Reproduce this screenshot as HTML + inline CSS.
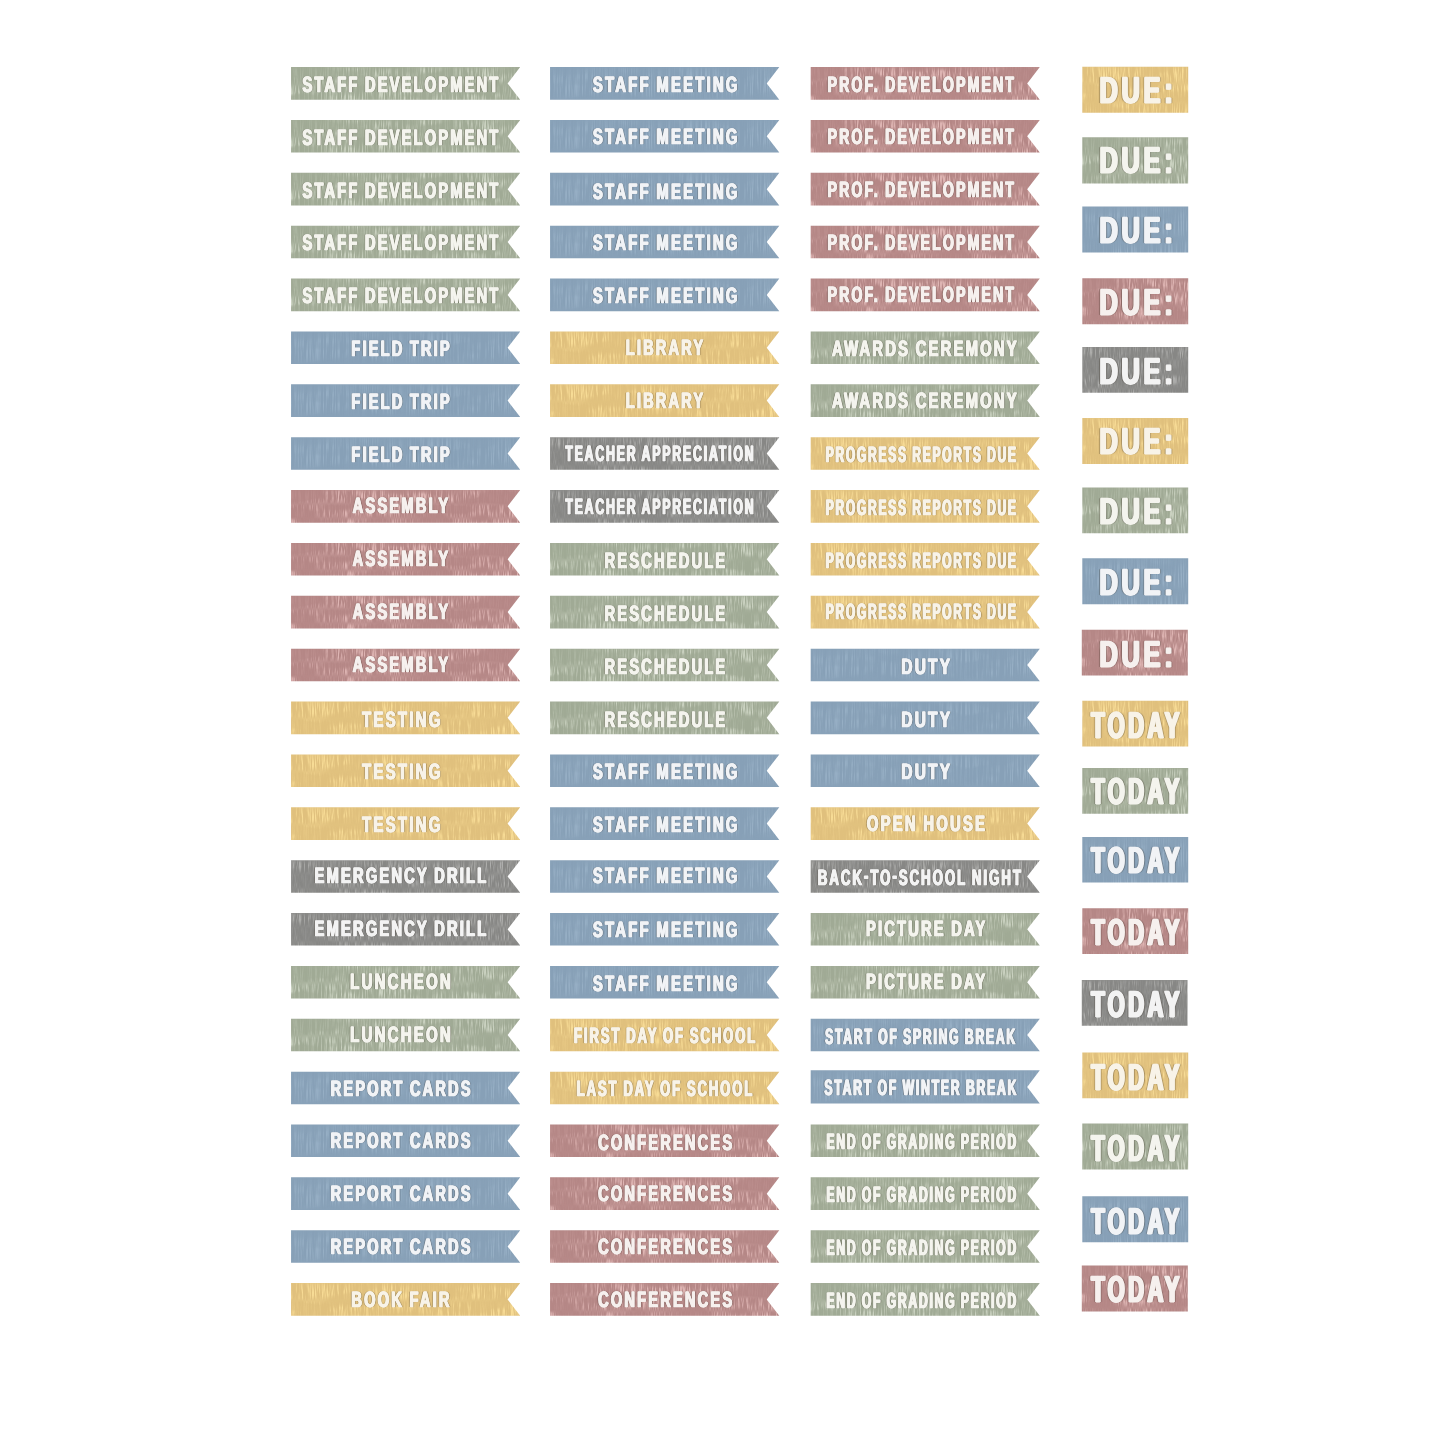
<!DOCTYPE html>
<html lang="en"><head><meta charset="utf-8"><title>Teacher planner stickers</title>
<style>
html,body{margin:0;padding:0;background:#fff}
body{position:relative;width:1445px;height:1445px;overflow:hidden;font-family:"Liberation Sans",sans-serif}
.flag,.tag{position:absolute}
.flag i,.tag i{position:absolute;left:0;top:0;width:100%;height:100%;display:block}
.t{position:absolute;left:0;top:0;font:700 100px/100px "Liberation Sans",sans-serif;white-space:pre;letter-spacing:15.4px;word-spacing:-5.5px;transform-origin:0 0;text-rendering:geometricPrecision}
.flag .t{-webkit-text-stroke:3.2px}
.tag .t{-webkit-text-stroke:3.2px}
.t b{font-weight:inherit;position:relative;top:-9px}
.sage i{background:#a0aa95;filter:url(#tx-sage)}.sage .t{color:#f4f4ee}
.blue i{background:#87a0b7;filter:url(#tx-blue)}.blue .t{color:#f1f3f6}
.rose i{background:#b58786;filter:url(#tx-rose)}.rose .t{color:#f6f0ee}
.gold i{background:#e0c07d;filter:url(#tx-gold)}.gold .t{color:#f8f3e8}
.gray i{background:#878785;filter:url(#tx-gray)}.gray .t{color:#f3f3f3}
</style></head><body>
<svg width="0" height="0" style="position:absolute" aria-hidden="true" focusable="false"><defs>
<filter id="tx-sage" x="0" y="0" width="1" height="1" color-interpolation-filters="sRGB"><feTurbulence type="fractalNoise" baseFrequency="1.0 0.055" numOctaves="2" seed="11"/><feColorMatrix type="matrix" values="0 0 0 0 0.831  0 0 0 0 0.859  0 0 0 0 0.796  1 0 0 0 0"/><feComponentTransfer result="s"><feFuncA type="table" tableValues="0 0 0 0 0 .25 .65 1 1 1 1"/></feComponentTransfer><feTurbulence type="fractalNoise" baseFrequency="0.025 0.07" numOctaves="2" seed="51"/><feColorMatrix type="matrix" values="0 0 0 0 1  0 0 0 0 1  0 0 0 0 1  5 0 0 0 -2" result="m"/><feComposite in="s" in2="m" operator="arithmetic" k1="0.600" k2="0.200" k3="0" k4="0"/><feComposite in2="SourceAlpha" operator="in" result="t"/><feMerge><feMergeNode in="SourceGraphic"/><feMergeNode in="t"/></feMerge></filter>
<filter id="tx-blue" x="0" y="0" width="1" height="1" color-interpolation-filters="sRGB"><feTurbulence type="fractalNoise" baseFrequency="1.0 0.03" numOctaves="2" seed="23"/><feColorMatrix type="matrix" values="0 0 0 0 0.627  0 0 0 0 0.722  0 0 0 0 0.804  1 0 0 0 0"/><feComponentTransfer result="s"><feFuncA type="table" tableValues="0 0 0 0 0 .25 .65 1 1 1 1"/></feComponentTransfer><feTurbulence type="fractalNoise" baseFrequency="0.025 0.07" numOctaves="2" seed="63"/><feColorMatrix type="matrix" values="0 0 0 0 1  0 0 0 0 1  0 0 0 0 1  5 0 0 0 -2" result="m"/><feComposite in="s" in2="m" operator="arithmetic" k1="0.360" k2="0.240" k3="0" k4="0"/><feComposite in2="SourceAlpha" operator="in" result="t"/><feMerge><feMergeNode in="SourceGraphic"/><feMergeNode in="t"/></feMerge></filter>
<filter id="tx-rose" x="0" y="0" width="1" height="1" color-interpolation-filters="sRGB"><feTurbulence type="fractalNoise" baseFrequency="1.0 0.07" numOctaves="2" seed="5"/><feColorMatrix type="matrix" values="0 0 0 0 0.910  0 0 0 0 0.753  0 0 0 0 0.745  1 0 0 0 0"/><feComponentTransfer result="s"><feFuncA type="table" tableValues="0 0 0 0 0 .25 .65 1 1 1 1"/></feComponentTransfer><feTurbulence type="fractalNoise" baseFrequency="0.025 0.07" numOctaves="2" seed="45"/><feColorMatrix type="matrix" values="0 0 0 0 1  0 0 0 0 1  0 0 0 0 1  5 0 0 0 -2" result="m"/><feComposite in="s" in2="m" operator="arithmetic" k1="0.680" k2="0.120" k3="0" k4="0"/><feComposite in2="SourceAlpha" operator="in" result="t"/><feMerge><feMergeNode in="SourceGraphic"/><feMergeNode in="t"/></feMerge></filter>
<filter id="tx-gold" x="0" y="0" width="1" height="1" color-interpolation-filters="sRGB"><feTurbulence type="fractalNoise" baseFrequency="1.0 0.055" numOctaves="2" seed="37"/><feColorMatrix type="matrix" values="0 0 0 0 0.992  0 0 0 0 0.886  0 0 0 0 0.612  1 0 0 0 0"/><feComponentTransfer result="s"><feFuncA type="table" tableValues="0 0 0 0 0 .25 .65 1 1 1 1"/></feComponentTransfer><feTurbulence type="fractalNoise" baseFrequency="0.025 0.07" numOctaves="2" seed="77"/><feColorMatrix type="matrix" values="0 0 0 0 1  0 0 0 0 1  0 0 0 0 1  5 0 0 0 -2" result="m"/><feComposite in="s" in2="m" operator="arithmetic" k1="0.600" k2="0.200" k3="0" k4="0"/><feComposite in2="SourceAlpha" operator="in" result="t"/><feMerge><feMergeNode in="SourceGraphic"/><feMergeNode in="t"/></feMerge></filter>
<filter id="tx-gray" x="0" y="0" width="1" height="1" color-interpolation-filters="sRGB"><feTurbulence type="fractalNoise" baseFrequency="1.0 0.07" numOctaves="2" seed="17"/><feColorMatrix type="matrix" values="0 0 0 0 0.722  0 0 0 0 0.722  0 0 0 0 0.714  1 0 0 0 0"/><feComponentTransfer result="s"><feFuncA type="table" tableValues="0 0 0 0 0 .25 .65 1 1 1 1"/></feComponentTransfer><feTurbulence type="fractalNoise" baseFrequency="0.025 0.07" numOctaves="2" seed="57"/><feColorMatrix type="matrix" values="0 0 0 0 1  0 0 0 0 1  0 0 0 0 1  5 0 0 0 -2" result="m"/><feComposite in="s" in2="m" operator="arithmetic" k1="0.560" k2="0.240" k3="0" k4="0"/><feComposite in2="SourceAlpha" operator="in" result="t"/><feMerge><feMergeNode in="SourceGraphic"/><feMergeNode in="t"/></feMerge></filter>
</defs></svg>
<section class="col" aria-label="column 1">
<div class="flag sage" style="left:291px;top:67px;width:230px;height:33px"><i style="clip-path:polygon(0.05px 0.1px,229.2px 0.1px,216.6px 16.4px,229.2px 32.7px,0.05px 32.7px)"></i><span class="t" style="transform:matrix(0.14556,0,0,0.22083,11.51,6.10);text-shadow:4.42px 0 0,-4.42px 0 0,9.11px 0 4.12px rgba(40,30,20,0.3),-9.11px 0 4.12px rgba(40,30,20,0.3)">STAFF DEVELOPMENT</span></div>
<div class="flag sage" style="left:291px;top:119px;width:230px;height:34px"><i style="clip-path:polygon(0.05px 0.97px,229.2px 0.97px,216.6px 17.27px,229.2px 33.57px,0.05px 33.57px)"></i><span class="t" style="transform:matrix(0.14556,0,0,0.22083,11.51,7.10);text-shadow:4.42px 0 0,-4.42px 0 0,9.11px 0 4.12px rgba(40,30,20,0.3),-9.11px 0 4.12px rgba(40,30,20,0.3)">STAFF DEVELOPMENT</span></div>
<div class="flag sage" style="left:291px;top:172px;width:230px;height:34px"><i style="clip-path:polygon(0.05px 0.84px,229.2px 0.84px,216.6px 17.14px,229.2px 33.44px,0.05px 33.44px)"></i><span class="t" style="transform:matrix(0.14556,0,0,0.22083,11.51,7.00);text-shadow:4.42px 0 0,-4.42px 0 0,9.11px 0 4.12px rgba(40,30,20,0.3),-9.11px 0 4.12px rgba(40,30,20,0.3)">STAFF DEVELOPMENT</span></div>
<div class="flag sage" style="left:291px;top:225px;width:230px;height:34px"><i style="clip-path:polygon(0.05px 0.71px,229.2px 0.71px,216.6px 17.01px,229.2px 33.31px,0.05px 33.31px)"></i><span class="t" style="transform:matrix(0.14556,0,0,0.22083,11.51,6.80);text-shadow:4.42px 0 0,-4.42px 0 0,9.11px 0 4.12px rgba(40,30,20,0.3),-9.11px 0 4.12px rgba(40,30,20,0.3)">STAFF DEVELOPMENT</span></div>
<div class="flag sage" style="left:291px;top:278px;width:230px;height:34px"><i style="clip-path:polygon(0.05px 0.58px,229.2px 0.58px,216.6px 16.88px,229.2px 33.18px,0.05px 33.18px)"></i><span class="t" style="transform:matrix(0.14556,0,0,0.22083,11.51,6.80);text-shadow:4.42px 0 0,-4.42px 0 0,9.11px 0 4.12px rgba(40,30,20,0.3),-9.11px 0 4.12px rgba(40,30,20,0.3)">STAFF DEVELOPMENT</span></div>
<div class="flag blue" style="left:291px;top:331px;width:230px;height:34px"><i style="clip-path:polygon(0.05px 0.45px,229.2px 0.45px,216.6px 16.75px,229.2px 33.05px,0.05px 33.05px)"></i><span class="t" style="transform:matrix(0.14488,0,0,0.22083,60.46,6.40);text-shadow:4.45px 0 0,-4.45px 0 0,9.15px 0 4.14px rgba(40,30,20,0.3),-9.15px 0 4.14px rgba(40,30,20,0.3)">FIELD TRIP</span></div>
<div class="flag blue" style="left:291px;top:384px;width:230px;height:33px"><i style="clip-path:polygon(0.05px 0.32px,229.2px 0.32px,216.6px 16.62px,229.2px 32.92px,0.05px 32.92px)"></i><span class="t" style="transform:matrix(0.14488,0,0,0.22083,60.46,6.30);text-shadow:4.45px 0 0,-4.45px 0 0,9.15px 0 4.14px rgba(40,30,20,0.3),-9.15px 0 4.14px rgba(40,30,20,0.3)">FIELD TRIP</span></div>
<div class="flag blue" style="left:291px;top:437px;width:230px;height:33px"><i style="clip-path:polygon(0.05px 0.19px,229.2px 0.19px,216.6px 16.49px,229.2px 32.79px,0.05px 32.79px)"></i><span class="t" style="transform:matrix(0.14488,0,0,0.22083,60.46,6.30);text-shadow:4.45px 0 0,-4.45px 0 0,9.15px 0 4.14px rgba(40,30,20,0.3),-9.15px 0 4.14px rgba(40,30,20,0.3)">FIELD TRIP</span></div>
<div class="flag rose" style="left:291px;top:490px;width:230px;height:33px"><i style="clip-path:polygon(0.05px 0.06px,229.2px 0.06px,216.6px 16.36px,229.2px 32.66px,0.05px 32.66px)"></i><span class="t" style="transform:matrix(0.14597,0,0,0.22083,61.71,4.30);text-shadow:4.4px 0 0,-4.4px 0 0,9.08px 0 4.11px rgba(40,30,20,0.3),-9.08px 0 4.11px rgba(40,30,20,0.3)">ASSEMBLY</span></div>
<div class="flag rose" style="left:291px;top:542px;width:230px;height:34px"><i style="clip-path:polygon(0.05px 0.93px,229.2px 0.93px,216.6px 17.23px,229.2px 33.53px,0.05px 33.53px)"></i><span class="t" style="transform:matrix(0.14597,0,0,0.22083,61.71,5.40);text-shadow:4.4px 0 0,-4.4px 0 0,9.08px 0 4.11px rgba(40,30,20,0.3),-9.08px 0 4.11px rgba(40,30,20,0.3)">ASSEMBLY</span></div>
<div class="flag rose" style="left:291px;top:595px;width:230px;height:34px"><i style="clip-path:polygon(0.05px 0.8px,229.2px 0.8px,216.6px 17.1px,229.2px 33.4px,0.05px 33.4px)"></i><span class="t" style="transform:matrix(0.14597,0,0,0.22083,61.71,5.15);text-shadow:4.4px 0 0,-4.4px 0 0,9.08px 0 4.11px rgba(40,30,20,0.3),-9.08px 0 4.11px rgba(40,30,20,0.3)">ASSEMBLY</span></div>
<div class="flag rose" style="left:291px;top:648px;width:230px;height:34px"><i style="clip-path:polygon(0.05px 0.67px,229.2px 0.67px,216.6px 16.97px,229.2px 33.27px,0.05px 33.27px)"></i><span class="t" style="transform:matrix(0.14597,0,0,0.22083,61.71,5.10);text-shadow:4.4px 0 0,-4.4px 0 0,9.08px 0 4.11px rgba(40,30,20,0.3),-9.08px 0 4.11px rgba(40,30,20,0.3)">ASSEMBLY</span></div>
<div class="flag gold" style="left:291px;top:701px;width:230px;height:34px"><i style="clip-path:polygon(0.05px 0.54px,229.2px 0.54px,216.6px 16.84px,229.2px 33.14px,0.05px 33.14px)"></i><span class="t" style="transform:matrix(0.14881,0,0,0.22083,71.11,7.10);text-shadow:4.29px 0 0,-4.29px 0 0,8.91px 0 4.03px rgba(40,30,20,0.3),-8.91px 0 4.03px rgba(40,30,20,0.3)">TESTING</span></div>
<div class="flag gold" style="left:291px;top:754px;width:230px;height:34px"><i style="clip-path:polygon(0.05px 0.41px,229.2px 0.41px,216.6px 16.71px,229.2px 33.01px,0.05px 33.01px)"></i><span class="t" style="transform:matrix(0.14881,0,0,0.22083,71.11,6.80);text-shadow:4.29px 0 0,-4.29px 0 0,8.91px 0 4.03px rgba(40,30,20,0.3),-8.91px 0 4.03px rgba(40,30,20,0.3)">TESTING</span></div>
<div class="flag gold" style="left:291px;top:807px;width:230px;height:33px"><i style="clip-path:polygon(0.05px 0.28px,229.2px 0.28px,216.6px 16.58px,229.2px 32.88px,0.05px 32.88px)"></i><span class="t" style="transform:matrix(0.14881,0,0,0.22083,71.11,6.40);text-shadow:4.29px 0 0,-4.29px 0 0,8.91px 0 4.03px rgba(40,30,20,0.3),-8.91px 0 4.03px rgba(40,30,20,0.3)">TESTING</span></div>
<div class="flag gray" style="left:291px;top:860px;width:230px;height:33px"><i style="clip-path:polygon(0.05px 0.15px,229.2px 0.15px,216.6px 16.45px,229.2px 32.75px,0.05px 32.75px)"></i><span class="t" style="transform:matrix(0.14602,0,0,0.22083,23.60,4.70);text-shadow:4.4px 0 0,-4.4px 0 0,9.08px 0 4.11px rgba(40,30,20,0.3),-9.08px 0 4.11px rgba(40,30,20,0.3)">EMERGENCY DRILL</span></div>
<div class="flag gray" style="left:291px;top:913px;width:230px;height:33px"><i style="clip-path:polygon(0.05px 0.02px,229.2px 0.02px,216.6px 16.32px,229.2px 32.62px,0.05px 32.62px)"></i><span class="t" style="transform:matrix(0.14602,0,0,0.22083,23.60,4.50);text-shadow:4.4px 0 0,-4.4px 0 0,9.08px 0 4.11px rgba(40,30,20,0.3),-9.08px 0 4.11px rgba(40,30,20,0.3)">EMERGENCY DRILL</span></div>
<div class="flag sage" style="left:291px;top:965px;width:230px;height:34px"><i style="clip-path:polygon(0.05px 0.89px,229.2px 0.89px,216.6px 17.19px,229.2px 33.49px,0.05px 33.49px)"></i><span class="t" style="transform:matrix(0.14908,0,0,0.22083,59.18,5.60);text-shadow:4.28px 0 0,-4.28px 0 0,8.89px 0 4.02px rgba(40,30,20,0.3),-8.89px 0 4.02px rgba(40,30,20,0.3)">LUNCHEON</span></div>
<div class="flag sage" style="left:291px;top:1018px;width:230px;height:34px"><i style="clip-path:polygon(0.05px 0.76px,229.2px 0.76px,216.6px 17.06px,229.2px 33.36px,0.05px 33.36px)"></i><span class="t" style="transform:matrix(0.14908,0,0,0.22083,59.18,5.50);text-shadow:4.28px 0 0,-4.28px 0 0,8.89px 0 4.02px rgba(40,30,20,0.3),-8.89px 0 4.02px rgba(40,30,20,0.3)">LUNCHEON</span></div>
<div class="flag blue" style="left:291px;top:1071px;width:230px;height:34px"><i style="clip-path:polygon(0.05px 0.63px,229.2px 0.63px,216.6px 16.93px,229.2px 33.23px,0.05px 33.23px)"></i><span class="t" style="transform:matrix(0.14491,0,0,0.22083,39.76,6.90);text-shadow:4.45px 0 0,-4.45px 0 0,9.15px 0 4.14px rgba(40,30,20,0.3),-9.15px 0 4.14px rgba(40,30,20,0.3)">REPORT CARDS</span></div>
<div class="flag blue" style="left:291px;top:1124px;width:230px;height:34px"><i style="clip-path:polygon(0.05px 0.5px,229.2px 0.5px,216.6px 16.8px,229.2px 33.1px,0.05px 33.1px)"></i><span class="t" style="transform:matrix(0.14491,0,0,0.22083,39.76,5.30);text-shadow:4.45px 0 0,-4.45px 0 0,9.15px 0 4.14px rgba(40,30,20,0.3),-9.15px 0 4.14px rgba(40,30,20,0.3)">REPORT CARDS</span></div>
<div class="flag blue" style="left:291px;top:1177px;width:230px;height:33px"><i style="clip-path:polygon(0.05px 0.37px,229.2px 0.37px,216.6px 16.67px,229.2px 32.97px,0.05px 32.97px)"></i><span class="t" style="transform:matrix(0.14491,0,0,0.22083,39.76,5.40);text-shadow:4.45px 0 0,-4.45px 0 0,9.15px 0 4.14px rgba(40,30,20,0.3),-9.15px 0 4.14px rgba(40,30,20,0.3)">REPORT CARDS</span></div>
<div class="flag blue" style="left:291px;top:1230px;width:230px;height:33px"><i style="clip-path:polygon(0.05px 0.24px,229.2px 0.24px,216.6px 16.54px,229.2px 32.84px,0.05px 32.84px)"></i><span class="t" style="transform:matrix(0.14491,0,0,0.22083,39.76,5.30);text-shadow:4.45px 0 0,-4.45px 0 0,9.15px 0 4.14px rgba(40,30,20,0.3),-9.15px 0 4.14px rgba(40,30,20,0.3)">REPORT CARDS</span></div>
<div class="flag gold" style="left:291px;top:1283px;width:230px;height:33px"><i style="clip-path:polygon(0.05px 0.11px,229.2px 0.11px,216.6px 16.41px,229.2px 32.71px,0.05px 32.71px)"></i><span class="t" style="transform:matrix(0.14551,0,0,0.22083,60.45,5.20);text-shadow:4.42px 0 0,-4.42px 0 0,9.11px 0 4.12px rgba(40,30,20,0.3),-9.11px 0 4.12px rgba(40,30,20,0.3)">BOOK FAIR</span></div>
</section>
<section class="col" aria-label="column 2">
<div class="flag blue" style="left:550px;top:67px;width:230px;height:33px"><i style="clip-path:polygon(0.05px 0.1px,229.3px 0.1px,216.7px 16.4px,229.3px 32.7px,0.05px 32.7px)"></i><span class="t" style="transform:matrix(0.14783,0,0,0.22083,42.95,6.00);text-shadow:4.33px 0 0,-4.33px 0 0,8.97px 0 4.06px rgba(40,30,20,0.3),-8.97px 0 4.06px rgba(40,30,20,0.3)">STAFF MEETING</span></div>
<div class="flag blue" style="left:550px;top:119px;width:230px;height:34px"><i style="clip-path:polygon(0.05px 0.97px,229.3px 0.97px,216.7px 17.27px,229.3px 33.57px,0.05px 33.57px)"></i><span class="t" style="transform:matrix(0.14783,0,0,0.22083,42.95,6.80);text-shadow:4.33px 0 0,-4.33px 0 0,8.97px 0 4.06px rgba(40,30,20,0.3),-8.97px 0 4.06px rgba(40,30,20,0.3)">STAFF MEETING</span></div>
<div class="flag blue" style="left:550px;top:172px;width:230px;height:34px"><i style="clip-path:polygon(0.05px 0.84px,229.3px 0.84px,216.7px 17.14px,229.3px 33.44px,0.05px 33.44px)"></i><span class="t" style="transform:matrix(0.14783,0,0,0.22083,42.95,8.30);text-shadow:4.33px 0 0,-4.33px 0 0,8.97px 0 4.06px rgba(40,30,20,0.3),-8.97px 0 4.06px rgba(40,30,20,0.3)">STAFF MEETING</span></div>
<div class="flag blue" style="left:550px;top:225px;width:230px;height:34px"><i style="clip-path:polygon(0.05px 0.71px,229.3px 0.71px,216.7px 17.01px,229.3px 33.31px,0.05px 33.31px)"></i><span class="t" style="transform:matrix(0.14783,0,0,0.22083,42.95,6.60);text-shadow:4.33px 0 0,-4.33px 0 0,8.97px 0 4.06px rgba(40,30,20,0.3),-8.97px 0 4.06px rgba(40,30,20,0.3)">STAFF MEETING</span></div>
<div class="flag blue" style="left:550px;top:278px;width:230px;height:34px"><i style="clip-path:polygon(0.05px 0.58px,229.3px 0.58px,216.7px 16.88px,229.3px 33.18px,0.05px 33.18px)"></i><span class="t" style="transform:matrix(0.14783,0,0,0.22083,42.95,6.30);text-shadow:4.33px 0 0,-4.33px 0 0,8.97px 0 4.06px rgba(40,30,20,0.3),-8.97px 0 4.06px rgba(40,30,20,0.3)">STAFF MEETING</span></div>
<div class="flag gold" style="left:550px;top:331px;width:230px;height:34px"><i style="clip-path:polygon(0.05px 0.45px,229.3px 0.45px,216.7px 16.75px,229.3px 33.05px,0.05px 33.05px)"></i><span class="t" style="transform:matrix(0.14490,0,0,0.22083,75.81,5.60);text-shadow:4.45px 0 0,-4.45px 0 0,9.15px 0 4.14px rgba(40,30,20,0.3),-9.15px 0 4.14px rgba(40,30,20,0.3)">LIBRARY</span></div>
<div class="flag gold" style="left:550px;top:384px;width:230px;height:33px"><i style="clip-path:polygon(0.05px 0.32px,229.3px 0.32px,216.7px 16.62px,229.3px 32.92px,0.05px 32.92px)"></i><span class="t" style="transform:matrix(0.14490,0,0,0.22083,75.81,5.10);text-shadow:4.45px 0 0,-4.45px 0 0,9.15px 0 4.14px rgba(40,30,20,0.3),-9.15px 0 4.14px rgba(40,30,20,0.3)">LIBRARY</span></div>
<div class="flag gray" style="left:550px;top:437px;width:230px;height:33px"><i style="clip-path:polygon(0.05px 0.19px,229.3px 0.19px,216.7px 16.49px,229.3px 32.79px,0.05px 32.79px)"></i><span class="t" style="transform:matrix(0.12203,0,0,0.22083,15.34,5.60);text-shadow:5.58px 0 0,-5.58px 0 0,10.87px 0 4.92px rgba(40,30,20,0.3),-10.87px 0 4.92px rgba(40,30,20,0.3)">TEACHER APPRECIATION</span></div>
<div class="flag gray" style="left:550px;top:490px;width:230px;height:33px"><i style="clip-path:polygon(0.05px 0.06px,229.3px 0.06px,216.7px 16.36px,229.3px 32.66px,0.05px 32.66px)"></i><span class="t" style="transform:matrix(0.12203,0,0,0.22083,15.34,5.10);text-shadow:5.58px 0 0,-5.58px 0 0,10.87px 0 4.92px rgba(40,30,20,0.3),-10.87px 0 4.92px rgba(40,30,20,0.3)">TEACHER APPRECIATION</span></div>
<div class="flag sage" style="left:550px;top:542px;width:230px;height:34px"><i style="clip-path:polygon(0.05px 0.93px,229.3px 0.93px,216.7px 17.23px,229.3px 33.53px,0.05px 33.53px)"></i><span class="t" style="transform:matrix(0.14578,0,0,0.22083,54.55,7.00);text-shadow:4.41px 0 0,-4.41px 0 0,9.1px 0 4.12px rgba(40,30,20,0.3),-9.1px 0 4.12px rgba(40,30,20,0.3)">RESCHEDULE</span></div>
<div class="flag sage" style="left:550px;top:595px;width:230px;height:34px"><i style="clip-path:polygon(0.05px 0.8px,229.3px 0.8px,216.7px 17.1px,229.3px 33.4px,0.05px 33.4px)"></i><span class="t" style="transform:matrix(0.14578,0,0,0.22083,54.55,7.00);text-shadow:4.41px 0 0,-4.41px 0 0,9.1px 0 4.12px rgba(40,30,20,0.3),-9.1px 0 4.12px rgba(40,30,20,0.3)">RESCHEDULE</span></div>
<div class="flag sage" style="left:550px;top:648px;width:230px;height:34px"><i style="clip-path:polygon(0.05px 0.67px,229.3px 0.67px,216.7px 16.97px,229.3px 33.27px,0.05px 33.27px)"></i><span class="t" style="transform:matrix(0.14578,0,0,0.22083,54.55,7.00);text-shadow:4.41px 0 0,-4.41px 0 0,9.1px 0 4.12px rgba(40,30,20,0.3),-9.1px 0 4.12px rgba(40,30,20,0.3)">RESCHEDULE</span></div>
<div class="flag sage" style="left:550px;top:701px;width:230px;height:34px"><i style="clip-path:polygon(0.05px 0.54px,229.3px 0.54px,216.7px 16.84px,229.3px 33.14px,0.05px 33.14px)"></i><span class="t" style="transform:matrix(0.14578,0,0,0.22083,54.55,7.00);text-shadow:4.41px 0 0,-4.41px 0 0,9.1px 0 4.12px rgba(40,30,20,0.3),-9.1px 0 4.12px rgba(40,30,20,0.3)">RESCHEDULE</span></div>
<div class="flag blue" style="left:550px;top:754px;width:230px;height:34px"><i style="clip-path:polygon(0.05px 0.41px,229.3px 0.41px,216.7px 16.71px,229.3px 33.01px,0.05px 33.01px)"></i><span class="t" style="transform:matrix(0.14783,0,0,0.22083,42.95,6.70);text-shadow:4.33px 0 0,-4.33px 0 0,8.97px 0 4.06px rgba(40,30,20,0.3),-8.97px 0 4.06px rgba(40,30,20,0.3)">STAFF MEETING</span></div>
<div class="flag blue" style="left:550px;top:807px;width:230px;height:33px"><i style="clip-path:polygon(0.05px 0.28px,229.3px 0.28px,216.7px 16.58px,229.3px 32.88px,0.05px 32.88px)"></i><span class="t" style="transform:matrix(0.14783,0,0,0.22083,42.95,6.30);text-shadow:4.33px 0 0,-4.33px 0 0,8.97px 0 4.06px rgba(40,30,20,0.3),-8.97px 0 4.06px rgba(40,30,20,0.3)">STAFF MEETING</span></div>
<div class="flag blue" style="left:550px;top:860px;width:230px;height:33px"><i style="clip-path:polygon(0.05px 0.15px,229.3px 0.15px,216.7px 16.45px,229.3px 32.75px,0.05px 32.75px)"></i><span class="t" style="transform:matrix(0.14783,0,0,0.22083,42.95,4.80);text-shadow:4.33px 0 0,-4.33px 0 0,8.97px 0 4.06px rgba(40,30,20,0.3),-8.97px 0 4.06px rgba(40,30,20,0.3)">STAFF MEETING</span></div>
<div class="flag blue" style="left:550px;top:913px;width:230px;height:33px"><i style="clip-path:polygon(0.05px 0.02px,229.3px 0.02px,216.7px 16.32px,229.3px 32.62px,0.05px 32.62px)"></i><span class="t" style="transform:matrix(0.14783,0,0,0.22083,42.95,5.00);text-shadow:4.33px 0 0,-4.33px 0 0,8.97px 0 4.06px rgba(40,30,20,0.3),-8.97px 0 4.06px rgba(40,30,20,0.3)">STAFF MEETING</span></div>
<div class="flag blue" style="left:550px;top:965px;width:230px;height:34px"><i style="clip-path:polygon(0.05px 0.89px,229.3px 0.89px,216.7px 17.19px,229.3px 33.49px,0.05px 33.49px)"></i><span class="t" style="transform:matrix(0.14783,0,0,0.22083,42.95,7.30);text-shadow:4.33px 0 0,-4.33px 0 0,8.97px 0 4.06px rgba(40,30,20,0.3),-8.97px 0 4.06px rgba(40,30,20,0.3)">STAFF MEETING</span></div>
<div class="flag gold" style="left:550px;top:1018px;width:230px;height:34px"><i style="clip-path:polygon(0.05px 0.76px,229.3px 0.76px,216.7px 17.06px,229.3px 33.36px,0.05px 33.36px)"></i><span class="t" style="transform:matrix(0.12943,0,0,0.22083,24.01,6.70);text-shadow:5.17px 0 0,-5.17px 0 0,10.25px 0 4.64px rgba(40,30,20,0.3),-10.25px 0 4.64px rgba(40,30,20,0.3)">FIRST DAY OF SCHOOL</span></div>
<div class="flag gold" style="left:550px;top:1071px;width:230px;height:34px"><i style="clip-path:polygon(0.05px 0.63px,229.3px 0.63px,216.7px 16.93px,229.3px 33.23px,0.05px 33.23px)"></i><span class="t" style="transform:matrix(0.12938,0,0,0.22083,26.76,6.30);text-shadow:5.17px 0 0,-5.17px 0 0,10.25px 0 4.64px rgba(40,30,20,0.3),-10.25px 0 4.64px rgba(40,30,20,0.3)">LAST DAY OF SCHOOL</span></div>
<div class="flag rose" style="left:550px;top:1124px;width:230px;height:34px"><i style="clip-path:polygon(0.05px 0.5px,229.3px 0.5px,216.7px 16.8px,229.3px 33.1px,0.05px 33.1px)"></i><span class="t" style="transform:matrix(0.14544,0,0,0.22083,48.18,7.30);text-shadow:4.42px 0 0,-4.42px 0 0,9.12px 0 4.13px rgba(40,30,20,0.3),-9.12px 0 4.13px rgba(40,30,20,0.3)">CONFERENCES</span></div>
<div class="flag rose" style="left:550px;top:1177px;width:230px;height:33px"><i style="clip-path:polygon(0.05px 0.37px,229.3px 0.37px,216.7px 16.67px,229.3px 32.97px,0.05px 32.97px)"></i><span class="t" style="transform:matrix(0.14544,0,0,0.22083,48.18,5.40);text-shadow:4.42px 0 0,-4.42px 0 0,9.12px 0 4.13px rgba(40,30,20,0.3),-9.12px 0 4.13px rgba(40,30,20,0.3)">CONFERENCES</span></div>
<div class="flag rose" style="left:550px;top:1230px;width:230px;height:33px"><i style="clip-path:polygon(0.05px 0.24px,229.3px 0.24px,216.7px 16.54px,229.3px 32.84px,0.05px 32.84px)"></i><span class="t" style="transform:matrix(0.14544,0,0,0.22083,48.18,5.30);text-shadow:4.42px 0 0,-4.42px 0 0,9.12px 0 4.13px rgba(40,30,20,0.3),-9.12px 0 4.13px rgba(40,30,20,0.3)">CONFERENCES</span></div>
<div class="flag rose" style="left:550px;top:1283px;width:230px;height:33px"><i style="clip-path:polygon(0.05px 0.11px,229.3px 0.11px,216.7px 16.41px,229.3px 32.71px,0.05px 32.71px)"></i><span class="t" style="transform:matrix(0.14544,0,0,0.22083,48.18,5.20);text-shadow:4.42px 0 0,-4.42px 0 0,9.12px 0 4.13px rgba(40,30,20,0.3),-9.12px 0 4.13px rgba(40,30,20,0.3)">CONFERENCES</span></div>
</section>
<section class="col" aria-label="column 3">
<div class="flag rose" style="left:810px;top:67px;width:230px;height:33px"><i style="clip-path:polygon(0.7px 0.1px,229.8px 0.1px,217.2px 16.4px,229.8px 32.7px,0.7px 32.7px)"></i><span class="t" style="transform:matrix(0.14074,0,0,0.22083,17.58,6.15);text-shadow:4.62px 0 0,-4.62px 0 0,9.42px 0 4.26px rgba(40,30,20,0.3),-9.42px 0 4.26px rgba(40,30,20,0.3)">PROF. DEVELOPMENT</span></div>
<div class="flag rose" style="left:810px;top:119px;width:230px;height:34px"><i style="clip-path:polygon(0.7px 0.97px,229.8px 0.97px,217.2px 17.27px,229.8px 33.57px,0.7px 33.57px)"></i><span class="t" style="transform:matrix(0.14074,0,0,0.22083,17.58,6.30);text-shadow:4.62px 0 0,-4.62px 0 0,9.42px 0 4.26px rgba(40,30,20,0.3),-9.42px 0 4.26px rgba(40,30,20,0.3)">PROF. DEVELOPMENT</span></div>
<div class="flag rose" style="left:810px;top:172px;width:230px;height:34px"><i style="clip-path:polygon(0.7px 0.84px,229.8px 0.84px,217.2px 17.14px,229.8px 33.44px,0.7px 33.44px)"></i><span class="t" style="transform:matrix(0.14074,0,0,0.22083,17.58,6.10);text-shadow:4.62px 0 0,-4.62px 0 0,9.42px 0 4.26px rgba(40,30,20,0.3),-9.42px 0 4.26px rgba(40,30,20,0.3)">PROF. DEVELOPMENT</span></div>
<div class="flag rose" style="left:810px;top:225px;width:230px;height:34px"><i style="clip-path:polygon(0.7px 0.71px,229.8px 0.71px,217.2px 17.01px,229.8px 33.31px,0.7px 33.31px)"></i><span class="t" style="transform:matrix(0.14074,0,0,0.22083,17.58,6.80);text-shadow:4.62px 0 0,-4.62px 0 0,9.42px 0 4.26px rgba(40,30,20,0.3),-9.42px 0 4.26px rgba(40,30,20,0.3)">PROF. DEVELOPMENT</span></div>
<div class="flag rose" style="left:810px;top:278px;width:230px;height:34px"><i style="clip-path:polygon(0.7px 0.58px,229.8px 0.58px,217.2px 16.88px,229.8px 33.18px,0.7px 33.18px)"></i><span class="t" style="transform:matrix(0.14074,0,0,0.22083,17.58,5.50);text-shadow:4.62px 0 0,-4.62px 0 0,9.42px 0 4.26px rgba(40,30,20,0.3),-9.42px 0 4.26px rgba(40,30,20,0.3)">PROF. DEVELOPMENT</span></div>
<div class="flag sage" style="left:810px;top:331px;width:230px;height:34px"><i style="clip-path:polygon(0.7px 0.45px,229.8px 0.45px,217.2px 16.75px,229.8px 33.05px,0.7px 33.05px)"></i><span class="t" style="transform:matrix(0.14706,0,0,0.22083,22.06,6.10);text-shadow:4.36px 0 0,-4.36px 0 0,9.02px 0 4.08px rgba(40,30,20,0.3),-9.02px 0 4.08px rgba(40,30,20,0.3)">AWARDS CEREMONY</span></div>
<div class="flag sage" style="left:810px;top:384px;width:230px;height:33px"><i style="clip-path:polygon(0.7px 0.32px,229.8px 0.32px,217.2px 16.62px,229.8px 32.92px,0.7px 32.92px)"></i><span class="t" style="transform:matrix(0.14706,0,0,0.22083,22.06,5.80);text-shadow:4.36px 0 0,-4.36px 0 0,9.02px 0 4.08px rgba(40,30,20,0.3),-9.02px 0 4.08px rgba(40,30,20,0.3)">AWARDS CEREMONY</span></div>
<div class="flag gold" style="left:810px;top:437px;width:230px;height:33px"><i style="clip-path:polygon(0.7px 0.19px,229.8px 0.19px,217.2px 16.49px,229.8px 32.79px,0.7px 32.79px)"></i><span class="t" style="transform:matrix(0.11899,0,0,0.22083,15.73,6.30);text-shadow:5.76px 0 0,-5.76px 0 0,11.14px 0 5.04px rgba(40,30,20,0.3),-11.14px 0 5.04px rgba(40,30,20,0.3)">PROGRESS REPORTS DUE</span></div>
<div class="flag gold" style="left:810px;top:490px;width:230px;height:33px"><i style="clip-path:polygon(0.7px 0.06px,229.8px 0.06px,217.2px 16.36px,229.8px 32.66px,0.7px 32.66px)"></i><span class="t" style="transform:matrix(0.11899,0,0,0.22083,15.73,6.00);text-shadow:5.76px 0 0,-5.76px 0 0,11.14px 0 5.04px rgba(40,30,20,0.3),-11.14px 0 5.04px rgba(40,30,20,0.3)">PROGRESS REPORTS DUE</span></div>
<div class="flag gold" style="left:810px;top:542px;width:230px;height:34px"><i style="clip-path:polygon(0.7px 0.93px,229.8px 0.93px,217.2px 17.23px,229.8px 33.53px,0.7px 33.53px)"></i><span class="t" style="transform:matrix(0.11899,0,0,0.22083,15.73,7.10);text-shadow:5.76px 0 0,-5.76px 0 0,11.14px 0 5.04px rgba(40,30,20,0.3),-11.14px 0 5.04px rgba(40,30,20,0.3)">PROGRESS REPORTS DUE</span></div>
<div class="flag gold" style="left:810px;top:595px;width:230px;height:34px"><i style="clip-path:polygon(0.7px 0.8px,229.8px 0.8px,217.2px 17.1px,229.8px 33.4px,0.7px 33.4px)"></i><span class="t" style="transform:matrix(0.11899,0,0,0.22083,15.73,5.60);text-shadow:5.76px 0 0,-5.76px 0 0,11.14px 0 5.04px rgba(40,30,20,0.3),-11.14px 0 5.04px rgba(40,30,20,0.3)">PROGRESS REPORTS DUE</span></div>
<div class="flag blue" style="left:810px;top:648px;width:230px;height:34px"><i style="clip-path:polygon(0.7px 0.67px,229.8px 0.67px,217.2px 16.97px,229.8px 33.27px,0.7px 33.27px)"></i><span class="t" style="transform:matrix(0.15235,0,0,0.22083,91.41,7.10);text-shadow:4.15px 0 0,-4.15px 0 0,8.7px 0 3.94px rgba(40,30,20,0.3),-8.7px 0 3.94px rgba(40,30,20,0.3)">DUTY</span></div>
<div class="flag blue" style="left:810px;top:701px;width:230px;height:34px"><i style="clip-path:polygon(0.7px 0.54px,229.8px 0.54px,217.2px 16.84px,229.8px 33.14px,0.7px 33.14px)"></i><span class="t" style="transform:matrix(0.15235,0,0,0.22083,91.41,7.00);text-shadow:4.15px 0 0,-4.15px 0 0,8.7px 0 3.94px rgba(40,30,20,0.3),-8.7px 0 3.94px rgba(40,30,20,0.3)">DUTY</span></div>
<div class="flag blue" style="left:810px;top:754px;width:230px;height:34px"><i style="clip-path:polygon(0.7px 0.41px,229.8px 0.41px,217.2px 16.71px,229.8px 33.01px,0.7px 33.01px)"></i><span class="t" style="transform:matrix(0.15235,0,0,0.22083,91.41,6.80);text-shadow:4.15px 0 0,-4.15px 0 0,8.7px 0 3.94px rgba(40,30,20,0.3),-8.7px 0 3.94px rgba(40,30,20,0.3)">DUTY</span></div>
<div class="flag gold" style="left:810px;top:807px;width:230px;height:33px"><i style="clip-path:polygon(0.7px 0.28px,229.8px 0.28px,217.2px 16.58px,229.8px 32.88px,0.7px 32.88px)"></i><span class="t" style="transform:matrix(0.14749,0,0,0.22083,56.92,5.00);text-shadow:4.34px 0 0,-4.34px 0 0,8.99px 0 4.07px rgba(40,30,20,0.3),-8.99px 0 4.07px rgba(40,30,20,0.3)">OPEN HOUSE</span></div>
<div class="flag gray" style="left:810px;top:860px;width:230px;height:33px"><i style="clip-path:polygon(0.7px 0.15px,229.8px 0.15px,217.2px 16.45px,229.8px 32.75px,0.7px 32.75px)"></i><span class="t" style="transform:matrix(0.13148,0,0,0.22083,7.85,6.30);text-shadow:5.06px 0 0,-5.06px 0 0,10.09px 0 4.56px rgba(40,30,20,0.3),-10.09px 0 4.56px rgba(40,30,20,0.3)">BACK<b>-</b>TO<b>-</b>SCHOOL NIGHT</span></div>
<div class="flag sage" style="left:810px;top:913px;width:230px;height:33px"><i style="clip-path:polygon(0.7px 0.02px,229.8px 0.02px,217.2px 16.32px,229.8px 32.62px,0.7px 32.62px)"></i><span class="t" style="transform:matrix(0.14582,0,0,0.22083,56.05,4.30);text-shadow:4.41px 0 0,-4.41px 0 0,9.09px 0 4.11px rgba(40,30,20,0.3),-9.09px 0 4.11px rgba(40,30,20,0.3)">PICTURE DAY</span></div>
<div class="flag sage" style="left:810px;top:965px;width:230px;height:34px"><i style="clip-path:polygon(0.7px 0.89px,229.8px 0.89px,217.2px 17.19px,229.8px 33.49px,0.7px 33.49px)"></i><span class="t" style="transform:matrix(0.14582,0,0,0.22083,56.05,5.50);text-shadow:4.41px 0 0,-4.41px 0 0,9.09px 0 4.11px rgba(40,30,20,0.3),-9.09px 0 4.11px rgba(40,30,20,0.3)">PICTURE DAY</span></div>
<div class="flag blue" style="left:810px;top:1018px;width:230px;height:34px"><i style="clip-path:polygon(0.7px 0.76px,229.8px 0.76px,217.2px 17.06px,229.8px 33.36px,0.7px 33.36px)"></i><span class="t" style="transform:matrix(0.12033,0,0,0.22083,15.18,7.30);text-shadow:5.68px 0 0,-5.68px 0 0,11.02px 0 4.99px rgba(40,30,20,0.3),-11.02px 0 4.99px rgba(40,30,20,0.3)">START OF SPRING BREAK</span></div>
<div class="flag blue" style="left:810px;top:1070px;width:230px;height:34px"><i style="clip-path:polygon(0.7px 0.3px,229.8px 0.3px,217.2px 16.9px,229.8px 33.5px,0.7px 33.5px)"></i><span class="t" style="transform:matrix(0.12073,0,0,0.22083,14.43,6.80);text-shadow:5.66px 0 0,-5.66px 0 0,10.98px 0 4.97px rgba(40,30,20,0.3),-10.98px 0 4.97px rgba(40,30,20,0.3)">START OF WINTER BREAK</span></div>
<div class="flag sage" style="left:810px;top:1124px;width:230px;height:34px"><i style="clip-path:polygon(0.7px 0.5px,229.8px 0.5px,217.2px 16.8px,229.8px 33.1px,0.7px 33.1px)"></i><span class="t" style="transform:matrix(0.11997,0,0,0.22083,16.52,6.90);text-shadow:5.7px 0 0,-5.7px 0 0,11.05px 0 5px rgba(40,30,20,0.3),-11.05px 0 5px rgba(40,30,20,0.3)">END OF GRADING PERIOD</span></div>
<div class="flag sage" style="left:810px;top:1177px;width:230px;height:33px"><i style="clip-path:polygon(0.7px 0.37px,229.8px 0.37px,217.2px 16.67px,229.8px 32.97px,0.7px 32.97px)"></i><span class="t" style="transform:matrix(0.11997,0,0,0.22083,16.52,6.60);text-shadow:5.7px 0 0,-5.7px 0 0,11.05px 0 5px rgba(40,30,20,0.3),-11.05px 0 5px rgba(40,30,20,0.3)">END OF GRADING PERIOD</span></div>
<div class="flag sage" style="left:810px;top:1230px;width:230px;height:33px"><i style="clip-path:polygon(0.7px 0.24px,229.8px 0.24px,217.2px 16.54px,229.8px 32.84px,0.7px 32.84px)"></i><span class="t" style="transform:matrix(0.11997,0,0,0.22083,16.52,6.90);text-shadow:5.7px 0 0,-5.7px 0 0,11.05px 0 5px rgba(40,30,20,0.3),-11.05px 0 5px rgba(40,30,20,0.3)">END OF GRADING PERIOD</span></div>
<div class="flag sage" style="left:810px;top:1283px;width:230px;height:33px"><i style="clip-path:polygon(0.7px 0.11px,229.8px 0.11px,217.2px 16.41px,229.8px 32.71px,0.7px 32.71px)"></i><span class="t" style="transform:matrix(0.11997,0,0,0.22083,16.52,6.60);text-shadow:5.7px 0 0,-5.7px 0 0,11.05px 0 5px rgba(40,30,20,0.3),-11.05px 0 5px rgba(40,30,20,0.3)">END OF GRADING PERIOD</span></div>
</section>
<section class="col" aria-label="tags">
<div class="tag gold" style="left:1082px;top:66px;width:107px;height:47px"><i style="clip-path:polygon(0.3px 0.8px,106.2px 0.8px,106.2px 46.7px,0.3px 46.7px)"></i><span class="t" style="transform:matrix(0.25163,0,0,0.37361,17.53,6.02);text-shadow:4.4px 0 0,-4.4px 0 0,7.79px 0 2.38px rgba(40,30,20,0.3),-7.79px 0 2.38px rgba(40,30,20,0.3)">DUE:</span></div>
<div class="tag sage" style="left:1082px;top:137px;width:107px;height:47px"><i style="clip-path:polygon(0.3px 0.2px,106.2px 0.2px,106.2px 46.4px,0.3px 46.4px)"></i><span class="t" style="transform:matrix(0.25163,0,0,0.37361,17.53,4.82);text-shadow:4.4px 0 0,-4.4px 0 0,7.79px 0 2.38px rgba(40,30,20,0.3),-7.79px 0 2.38px rgba(40,30,20,0.3)">DUE:</span></div>
<div class="tag blue" style="left:1082px;top:206px;width:107px;height:47px"><i style="clip-path:polygon(0.3px 0.5px,106.2px 0.5px,106.2px 46.6px,0.3px 46.6px)"></i><span class="t" style="transform:matrix(0.25163,0,0,0.37361,17.53,5.22);text-shadow:4.4px 0 0,-4.4px 0 0,7.79px 0 2.38px rgba(40,30,20,0.3),-7.79px 0 2.38px rgba(40,30,20,0.3)">DUE:</span></div>
<div class="tag rose" style="left:1082px;top:278px;width:107px;height:47px"><i style="clip-path:polygon(0.3px 0.3px,106.2px 0.3px,106.2px 46.3px,0.3px 46.3px)"></i><span class="t" style="transform:matrix(0.25163,0,0,0.37361,17.53,5.22);text-shadow:4.4px 0 0,-4.4px 0 0,7.79px 0 2.38px rgba(40,30,20,0.3),-7.79px 0 2.38px rgba(40,30,20,0.3)">DUE:</span></div>
<div class="tag gray" style="left:1082px;top:346px;width:107px;height:47px"><i style="clip-path:polygon(0.3px 0.9px,106.2px 0.9px,106.2px 46.8px,0.3px 46.8px)"></i><span class="t" style="transform:matrix(0.25163,0,0,0.37361,17.53,6.62);text-shadow:4.4px 0 0,-4.4px 0 0,7.79px 0 2.38px rgba(40,30,20,0.3),-7.79px 0 2.38px rgba(40,30,20,0.3)">DUE:</span></div>
<div class="tag gold" style="left:1082px;top:418px;width:107px;height:46px"><i style="clip-path:polygon(0.3px 0.1px,106.2px 0.1px,106.2px 46px,0.3px 46px)"></i><span class="t" style="transform:matrix(0.25163,0,0,0.37361,17.53,4.92);text-shadow:4.4px 0 0,-4.4px 0 0,7.79px 0 2.38px rgba(40,30,20,0.3),-7.79px 0 2.38px rgba(40,30,20,0.3)">DUE:</span></div>
<div class="tag sage" style="left:1082px;top:487px;width:107px;height:47px"><i style="clip-path:polygon(0.3px 0.4px,106.2px 0.4px,106.2px 46.2px,0.3px 46.2px)"></i><span class="t" style="transform:matrix(0.25163,0,0,0.37361,17.53,5.87);text-shadow:4.4px 0 0,-4.4px 0 0,7.79px 0 2.38px rgba(40,30,20,0.3),-7.79px 0 2.38px rgba(40,30,20,0.3)">DUE:</span></div>
<div class="tag blue" style="left:1082px;top:558px;width:107px;height:47px"><i style="clip-path:polygon(0.3px 0.3px,106.2px 0.3px,106.2px 46.3px,0.3px 46.3px)"></i><span class="t" style="transform:matrix(0.25163,0,0,0.37361,17.53,5.82);text-shadow:4.4px 0 0,-4.4px 0 0,7.79px 0 2.38px rgba(40,30,20,0.3),-7.79px 0 2.38px rgba(40,30,20,0.3)">DUE:</span></div>
<div class="tag rose" style="left:1081px;top:629px;width:107px;height:47px"><i style="clip-path:polygon(0.8px 0.8px,106.8px 0.8px,106.8px 46.5px,0.8px 46.5px)"></i><span class="t" style="transform:matrix(0.25163,0,0,0.37361,18.53,6.22);text-shadow:4.4px 0 0,-4.4px 0 0,7.79px 0 2.38px rgba(40,30,20,0.3),-7.79px 0 2.38px rgba(40,30,20,0.3)">DUE:</span></div>
<div class="tag gold" style="left:1082px;top:700px;width:107px;height:47px"><i style="clip-path:polygon(0.3px 0.8px,106.2px 0.8px,106.2px 46.4px,0.3px 46.4px)"></i><span class="t" style="transform:matrix(0.22012,0,0,0.37361,9.26,6.22);text-shadow:5.26px 0 0,-5.26px 0 0,8.9px 0 2.73px rgba(40,30,20,0.3),-8.9px 0 2.73px rgba(40,30,20,0.3)">TODAY</span></div>
<div class="tag sage" style="left:1082px;top:768px;width:107px;height:46px"><i style="clip-path:polygon(0.3px 0.1px,106.2px 0.1px,106.2px 45.8px,0.3px 45.8px)"></i><span class="t" style="transform:matrix(0.22012,0,0,0.37361,9.26,4.97);text-shadow:5.26px 0 0,-5.26px 0 0,8.9px 0 2.73px rgba(40,30,20,0.3),-8.9px 0 2.73px rgba(40,30,20,0.3)">TODAY</span></div>
<div class="tag blue" style="left:1082px;top:837px;width:107px;height:46px"><i style="clip-path:polygon(0.3px 0px,106.2px 0px,106.2px 45.5px,0.3px 45.5px)"></i><span class="t" style="transform:matrix(0.22012,0,0,0.37361,9.26,4.92);text-shadow:5.26px 0 0,-5.26px 0 0,8.9px 0 2.73px rgba(40,30,20,0.3),-8.9px 0 2.73px rgba(40,30,20,0.3)">TODAY</span></div>
<div class="tag rose" style="left:1082px;top:908px;width:107px;height:47px"><i style="clip-path:polygon(0.3px 0.35px,106.2px 0.35px,106.2px 46.1px,0.3px 46.1px)"></i><span class="t" style="transform:matrix(0.22012,0,0,0.37361,9.26,5.32);text-shadow:5.26px 0 0,-5.26px 0 0,8.9px 0 2.73px rgba(40,30,20,0.3),-8.9px 0 2.73px rgba(40,30,20,0.3)">TODAY</span></div>
<div class="tag gray" style="left:1081px;top:980px;width:107px;height:46px"><i style="clip-path:polygon(0.8px 0px,106.5px 0px,106.5px 45.75px,0.8px 45.75px)"></i><span class="t" style="transform:matrix(0.22012,0,0,0.37361,10.26,5.92);text-shadow:5.26px 0 0,-5.26px 0 0,8.9px 0 2.73px rgba(40,30,20,0.3),-8.9px 0 2.73px rgba(40,30,20,0.3)">TODAY</span></div>
<div class="tag gold" style="left:1082px;top:1052px;width:107px;height:47px"><i style="clip-path:polygon(0.3px 0.45px,106.2px 0.45px,106.2px 46.25px,0.3px 46.25px)"></i><span class="t" style="transform:matrix(0.22012,0,0,0.37361,9.26,6.52);text-shadow:5.26px 0 0,-5.26px 0 0,8.9px 0 2.73px rgba(40,30,20,0.3),-8.9px 0 2.73px rgba(40,30,20,0.3)">TODAY</span></div>
<div class="tag sage" style="left:1082px;top:1123px;width:107px;height:47px"><i style="clip-path:polygon(0.3px 0.6px,106.2px 0.6px,106.2px 46.4px,0.3px 46.4px)"></i><span class="t" style="transform:matrix(0.22012,0,0,0.37361,9.26,6.52);text-shadow:5.26px 0 0,-5.26px 0 0,8.9px 0 2.73px rgba(40,30,20,0.3),-8.9px 0 2.73px rgba(40,30,20,0.3)">TODAY</span></div>
<div class="tag blue" style="left:1082px;top:1196px;width:107px;height:47px"><i style="clip-path:polygon(0.3px 0.35px,106.2px 0.35px,106.2px 46.3px,0.3px 46.3px)"></i><span class="t" style="transform:matrix(0.22012,0,0,0.37361,9.26,6.57);text-shadow:5.26px 0 0,-5.26px 0 0,8.9px 0 2.73px rgba(40,30,20,0.3),-8.9px 0 2.73px rgba(40,30,20,0.3)">TODAY</span></div>
<div class="tag rose" style="left:1081px;top:1265px;width:107px;height:47px"><i style="clip-path:polygon(0.8px 0.6px,106.8px 0.6px,106.8px 46.5px,0.8px 46.5px)"></i><span class="t" style="transform:matrix(0.22012,0,0,0.37361,10.26,5.32);text-shadow:5.26px 0 0,-5.26px 0 0,8.9px 0 2.73px rgba(40,30,20,0.3),-8.9px 0 2.73px rgba(40,30,20,0.3)">TODAY</span></div>
</section>
</body></html>
